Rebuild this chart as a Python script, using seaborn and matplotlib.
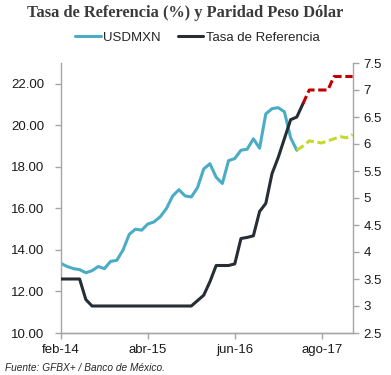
import numpy as np
import matplotlib
matplotlib.use('Agg')
import matplotlib.pyplot as plt
import seaborn as sns

# Monthly data, feb-14 (index 0) to ene-18 (index 47)
usdmxn = [13.35, 13.2, 13.1, 13.05, 12.9, 13.0, 13.2, 13.1, 13.45, 13.5,
          14.0, 14.75, 15.0, 14.95, 15.25, 15.35, 15.6, 16.0, 16.6, 16.9,
          16.6, 16.55, 17.0, 17.9, 18.15, 17.5, 17.2, 18.3, 18.4, 18.8,
          18.85, 19.35, 18.9, 20.55, 20.8, 20.85, 20.65, 19.4, 18.8]
usdmxn_pron = [18.8, 19.0, 19.25, 19.2, 19.15, 19.25, 19.35, 19.45, 19.4, 19.55]

tasa = [3.5, 3.5, 3.5, 3.5, 3.12, 3.0, 3.0, 3.0, 3.0, 3.0,
        3.0, 3.0, 3.0, 3.0, 3.0, 3.0, 3.0, 3.0, 3.0, 3.0,
        3.0, 3.0, 3.1, 3.2, 3.45, 3.75, 3.75, 3.75, 3.78, 4.25,
        4.27, 4.3, 4.75, 4.9, 5.45, 5.75, 6.1, 6.45, 6.5, 6.75]
tasa_pron = [6.75, 7.0, 7.0, 7.0, 7.0, 7.25, 7.25, 7.25, 7.25]

tick_pos = [0, 14, 28, 42]
tick_labels = ['feb-14', 'abr-15', 'jun-16', 'ago-17']

mes = np.arange(48)

sns.set_style('white')
plt.rcParams['font.family'] = ['Liberation Sans', 'DejaVu Sans']

c_usd = '#4BACC6'
c_tasa = '#262D35'
c_red = '#C00000'
c_yel = '#C5D92D'
c_spine = '#A6A6A6'

fig = plt.figure(figsize=(3.91, 3.75), dpi=100)
ax = fig.add_axes([0.156, 0.112, 0.746, 0.72])
ax2 = ax.twinx()

sns.lineplot(x=mes[:39], y=usdmxn, ax=ax, color=c_usd, lw=2.2, label='USDMXN')
sns.lineplot(x=mes[38:], y=usdmxn_pron, ax=ax, color=c_yel, lw=2.2,
             linestyle=(0, (2.7, 1.2)))
sns.lineplot(x=mes[:40], y=tasa, ax=ax2, color=c_tasa, lw=2.2, label='Tasa de Referencia')
sns.lineplot(x=mes[39:], y=tasa_pron, ax=ax2, color=c_red, lw=2.2,
             linestyle=(0, (2.7, 1.2)))

ax.set_xlim(0, 47)
ax.set_ylim(10, 23)
ax.set_yticks(np.arange(10, 23, 2))
ax.set_yticklabels(['%.2f' % v for v in np.arange(10, 23, 2)])
ax2.set_ylim(2.5, 7.5)
ax2.set_yticks(np.arange(2.5, 7.6, 0.5))
ax2.set_yticklabels(['%g' % v for v in np.arange(2.5, 7.6, 0.5)])
ax.set_xticks(tick_pos)
ax.set_xticklabels(tick_labels)

for a in (ax, ax2):
    a.set_xlabel('')
    a.set_ylabel('')
    a.spines['top'].set_visible(False)
    for s in ('left', 'right', 'bottom'):
        a.spines[s].set_color(c_spine)
        a.spines[s].set_linewidth(1.0)
    a.tick_params(colors=c_spine, labelcolor='#1a1a1a', labelsize=9.5,
                  length=4, width=1, direction='out')
    if a.get_legend():
        a.get_legend().remove()
ax.spines['right'].set_visible(False)
ax2.spines['left'].set_visible(False)
ax.tick_params(axis='y', left=True, pad=8)
ax.tick_params(axis='x', bottom=True, pad=4)
ax2.tick_params(axis='y', pad=4)

h1, l1 = ax.get_legend_handles_labels()
h2, l2 = ax2.get_legend_handles_labels()
fig.legend(h1[:1] + h2[:1], ['USDMXN', 'Tasa de Referencia'], loc='center',
           bbox_to_anchor=(0.505, 1 - 38 / 375), ncol=2, frameon=False,
           fontsize=9.5, handlelength=1.9, handletextpad=0.2, columnspacing=1.3)

fig.text(0.473, 1 - 13 / 375, 'Tasa de Referencia (%) y Paridad Peso Dólar',
         ha='center', va='center', fontsize=11.8, fontweight='bold',
         family=['Liberation Serif', 'DejaVu Serif'], color='#3a3a3a')
fig.text(0.013, 1 - 368 / 375, 'Fuente: GFBX+ / Banco de México.', ha='left',
         va='center', fontsize=7.3, style='italic', color='#262626')

fig.savefig('out.png', dpi=100)
